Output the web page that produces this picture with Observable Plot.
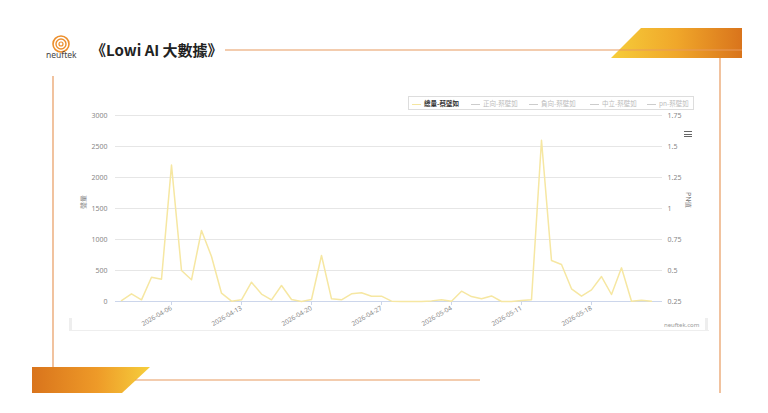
<!DOCTYPE html>
<html><head><meta charset="utf-8">
<script src="https://cdn.jsdelivr.net/npm/d3@7"></script>
<script src="https://cdn.jsdelivr.net/npm/@observablehq/plot@0.6"></script>
<style>
html,body{margin:0;padding:0;background:#fff;}
body{width:768px;height:413px;position:relative;overflow:hidden;font-family:"Noto Sans CJK TC","Noto Sans",sans-serif;}
#deco{position:absolute;left:0;top:0;}
#chart{position:absolute;left:60px;top:95px;}
#legend{position:absolute;left:408px;top:96px;width:284px;height:12px;border:1px solid #ddd;font-size:6.5px;line-height:12px;color:#bbb;white-space:nowrap;}
#legend span.item{position:absolute;top:0;}
#legend span.sym{display:inline-block;width:9px;height:1px;vertical-align:middle;margin-right:3px;background:#ccc;}
#menu{position:absolute;left:684px;top:131px;width:8px;}
#menu div{height:1.3px;background:#666;margin-bottom:1.3px;}
#credit{position:absolute;left:664px;top:321px;font-size:6px;color:#999;font-family:"Noto Sans",sans-serif;}
#nav{position:absolute;left:69px;top:316px;width:640px;height:14px;border-bottom:1px solid #eee;}
.handle{position:absolute;top:318px;width:3px;height:12px;background:#eee;}
</style></head>
<body>
<svg id="deco" width="768" height="413">
  <defs>
    <linearGradient id="gTop" x1="0" x2="1" y1="0" y2="0">
      <stop offset="0" stop-color="#f6cd3a"/><stop offset="0.5" stop-color="#f0a72a"/><stop offset="1" stop-color="#d9741c"/>
    </linearGradient>
    <linearGradient id="gBot" x1="0" x2="1" y1="0" y2="0">
      <stop offset="0" stop-color="#d9741c"/><stop offset="0.55" stop-color="#ee9a28"/><stop offset="1" stop-color="#f6cf3c"/>
    </linearGradient>
  </defs>
  <polygon points="641,28 742,28 742,58 611,58" fill="url(#gTop)"/>
  <line x1="225" y1="50" x2="742" y2="50" stroke="#e89a5f" stroke-width="1.2"/>
  <line x1="720" y1="58" x2="720" y2="393" stroke="#e89a5f" stroke-width="1.2"/>
  <line x1="53" y1="76" x2="53" y2="367" stroke="#e89a5f" stroke-width="1.2"/>
  <polygon points="32,367 150,367 122,393 32,393" fill="url(#gBot)"/>
  <line x1="135" y1="380" x2="480" y2="380" stroke="#e89a5f" stroke-width="1.2"/>
  <circle cx="61" cy="44" r="8" fill="none" stroke="#ec8f2c" stroke-width="1.6"/>
  <circle cx="61" cy="44" r="5" fill="none" stroke="#ec8f2c" stroke-width="1.4"/>
  <circle cx="61" cy="44" r="2" fill="none" stroke="#ec8f2c" stroke-width="1.2"/>
  <text x="46" y="58" font-size="8.5" fill="#444" font-family="Noto Sans, sans-serif">neuftek</text>
  <text x="91" y="56" font-size="15" font-weight="bold" fill="#222" font-family="Noto Sans CJK TC, sans-serif">《Lowi AI 大數據》</text>
</svg>
<div id="nav"></div>
<div class="handle" style="left:69px"></div>
<div class="handle" style="left:705px"></div>
<div id="chart"></div>
<div id="legend"></div>
<div id="menu"><div></div><div></div><div></div></div>
<div id="credit">neuftek.com</div>
<script>
const dates = ["2026-04-01","2026-04-02","2026-04-03","2026-04-04","2026-04-05","2026-04-06","2026-04-07","2026-04-08","2026-04-09","2026-04-10",
"2026-04-11","2026-04-12","2026-04-13","2026-04-14","2026-04-15","2026-04-16","2026-04-17","2026-04-18","2026-04-19","2026-04-20",
"2026-04-21","2026-04-22","2026-04-23","2026-04-24","2026-04-25","2026-04-26","2026-04-27","2026-04-28","2026-04-29","2026-04-30",
"2026-05-01","2026-05-02","2026-05-03","2026-05-04","2026-05-05","2026-05-06","2026-05-07","2026-05-08","2026-05-09","2026-05-10",
"2026-05-11","2026-05-12","2026-05-13","2026-05-14","2026-05-15","2026-05-16","2026-05-17","2026-05-18","2026-05-19","2026-05-20",
"2026-05-21","2026-05-22","2026-05-23","2026-05-24"];
const totalVolume = [15,124,27,392,360,2200,500,350,1145,726,
134,5,27,311,120,27,258,32,0,32,
742,43,27,124,140,86,86,5,0,0,
0,10,30,5,166,80,43,90,0,0,
15,30,2600,661,597,205,86,188,403,113,
543,5,21,5];
const leftTicks = [0,500,1000,1500,2000,2500,3000];
const rightTicks = ["0.25","0.5","0.75","1","1.25","1.5","1.75"];
const xTickDates = ["2026-04-06","2026-04-13","2026-04-20","2026-04-27","2026-05-04","2026-05-11","2026-05-18"];
const legendNames = ["總量-蔡壁如","正向-蔡壁如","負向-蔡壁如","中立-蔡壁如","pn-蔡壁如"];
const leftLabel = "聲量";
const rightLabel = "PN值";

const parse = d3.utcParse("%Y-%m-%d");
const data = dates.map((d,i)=>({date: parse(d), value: totalVolume[i]}));
const xTicks = xTickDates.map(parse);
const fmt = d3.utcFormat("%Y-%m-%d");

const chart = Plot.plot({
  width: 660, height: 240,
  marginLeft: 55, marginRight: 58, marginTop: 20, marginBottom: 34,
  style: {fontFamily: "Noto Sans, sans-serif", background: "transparent", color: "#888"},
  x: {type: "utc", domain: [new Date(Date.UTC(2026,2,31,9,36)), new Date(Date.UTC(2026,4,25,2,24))]},
  y: {domain: [0, 3000]},
  marks: [
    Plot.gridY(leftTicks, {stroke: "#e6e6e6", strokeOpacity: 1}),
    Plot.ruleY([0], {stroke: "#ccd6eb"}),
    Plot.axisY(leftTicks, {anchor: "left", tickSize: 0, tickPadding: 8, fontSize: 7, fill: "#888", label: null, tickFormat: d => String(d)}),
    Plot.axisY(leftTicks, {anchor: "right", tickSize: 0, tickPadding: 5, fontSize: 7, fill: "#888", label: null, tickFormat: d => rightTicks[leftTicks.indexOf(d)]}),
    Plot.axisX(xTicks, {tickSize: 4, stroke: "#ccd6eb", tickFormat: () => "", label: null}),
    Plot.axisX(xTicks, {tickSize: 0, tickPadding: 6, tickRotate: -30, fontSize: 6.5, fill: "#888", tickFormat: fmt, label: null}),
    Plot.text([leftLabel], {frameAnchor: "left", dx: -32, rotate: -90, fontSize: 7, fill: "#777"}),
    Plot.text([rightLabel], {frameAnchor: "right", dx: 26, rotate: 90, fontSize: 7, fill: "#777"}),
    Plot.line(data, {x: "date", y: "value", stroke: "#f6e7a2", strokeWidth: 1.5})
  ]
});
document.getElementById("chart").appendChild(chart);

const lg = document.getElementById("legend");
const lefts = [3, 62, 120, 181, 238];
legendNames.forEach((n,i) => {
  const s = document.createElement("span");
  s.className = "item";
  s.style.left = lefts[i] + "px";
  const sym = document.createElement("span");
  sym.className = "sym";
  if (i === 0) sym.style.background = "#f5e6a0";
  s.appendChild(sym);
  const t = document.createElement("span");
  t.textContent = n;
  if (i === 0) { t.style.color = "#333"; t.style.fontWeight = "bold"; }
  s.appendChild(t);
  lg.appendChild(s);
});
</script>
</body></html>
